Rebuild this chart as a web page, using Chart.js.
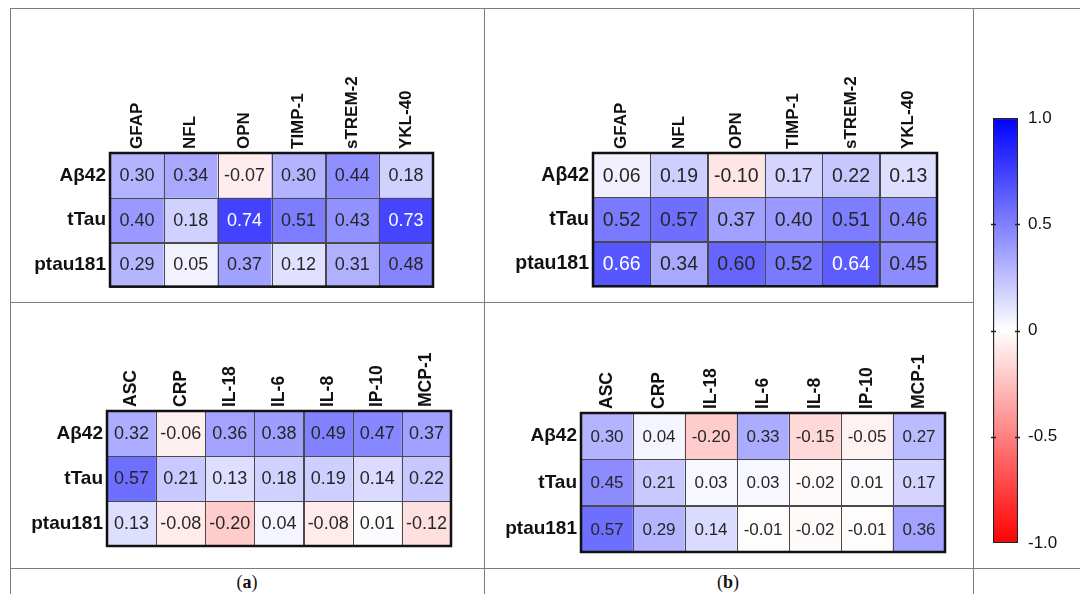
<!DOCTYPE html>
<html><head><meta charset="utf-8">
<script src="https://cdn.jsdelivr.net/npm/chart.js@4.4.1/dist/chart.umd.min.js"></script>
<style>
html,body{margin:0;padding:0;background:#fff;width:1080px;height:594px;overflow:hidden;}
body{position:relative;}
.ln{position:absolute;background:#7c7c7c;}
canvas{position:absolute;}
.cap{position:absolute;font-family:"Liberation Serif","Times New Roman",serif;font-size:18px;color:#111;transform:translate(-50%,-50%);white-space:nowrap;}
</style></head><body>
<div class="ln" style="left:10px;top:8px;width:1070px;height:1px"></div>
<div class="ln" style="left:10px;top:8px;width:1px;height:586px"></div>
<div class="ln" style="left:484px;top:8px;width:1px;height:586px"></div>
<div class="ln" style="left:973px;top:8px;width:1px;height:586px"></div>
<div class="ln" style="left:10px;top:302px;width:963px;height:1px"></div>
<div class="ln" style="left:10px;top:568px;width:1070px;height:1px"></div>
<canvas id="aTop" width="474" height="293" style="left:10px;top:9px"></canvas>
<canvas id="bTop" width="489" height="293" style="left:484px;top:9px"></canvas>
<canvas id="aBot" width="474" height="266" style="left:10px;top:302px"></canvas>
<canvas id="bBot" width="489" height="266" style="left:484px;top:302px"></canvas>
<canvas id="cbar" width="107" height="559" style="left:973px;top:9px"></canvas>
<div class="cap" id="capA" style="left:247px;top:582px"></div>
<div class="cap" id="capB" style="left:728px;top:582px"></div>
<script>
const rowLabels = ["Aβ42", "tTau", "ptau181"];
const colsTop = ["GFAP", "NFL", "OPN", "TIMP-1", "sTREM-2", "YKL-40"];
const colsBottom = ["ASC", "CRP", "IL-18", "IL-6", "IL-8", "IP-10", "MCP-1"];

const aTopAb42 = [0.30, 0.34, -0.07, 0.30, 0.44, 0.18];
const aTopTTau = [0.40, 0.18, 0.74, 0.51, 0.43, 0.73];
const aTopPtau = [0.29, 0.05, 0.37, 0.12, 0.31, 0.48];

const bTopAb42 = [0.06, 0.19, -0.10, 0.17, 0.22, 0.13];
const bTopTTau = [0.52, 0.57, 0.37, 0.40, 0.51, 0.46];
const bTopPtau = [0.66, 0.34, 0.60, 0.52, 0.64, 0.45];

const aBotAb42 = [0.32, -0.06, 0.36, 0.38, 0.49, 0.47, 0.37];
const aBotTTau = [0.57, 0.21, 0.13, 0.18, 0.19, 0.14, 0.22];
const aBotPtau = [0.13, -0.08, -0.20, 0.04, -0.08, 0.01, -0.12];

const bBotAb42 = [0.30, 0.04, -0.20, 0.33, -0.15, -0.05, 0.27];
const bBotTTau = [0.45, 0.21, 0.03, 0.03, -0.02, 0.01, 0.17];
const bBotPtau = [0.57, 0.29, 0.14, -0.01, -0.02, -0.01, 0.36];

const colorbarTicks = [1, 0.5, 0, -0.5, -1];
const colorbarTickLabels = ["1.0", "0.5", "0", "-0.5", "-1.0"];
const captionLetters = ["a", "b"];

const FONT = '"Liberation Sans", Arial, sans-serif';

function cellColor(v) {
  const t = Math.min(1, Math.abs(v));
  const c = Math.round(255 * (1 - t));
  return v >= 0 ? `rgb(${c},${c},255)` : `rgb(255,${c},${c})`;
}

const cellPlugin = {
  id: 'cells',
  afterDatasetsDraw(chart, args, opts) {
    const ctx = chart.ctx;
    ctx.save();
    chart.data.datasets.forEach((ds, di) => {
      const meta = chart.getDatasetMeta(di);
      meta.data.forEach((bar, i) => {
        const p = bar.getProps(['x', 'y', 'base', 'width'], true);
        const l = p.x - p.width / 2, t = Math.min(p.y, p.base), h = Math.abs(p.base - p.y);
        ctx.strokeStyle = '#4a4a4a';
        ctx.lineWidth = 1;
        ctx.strokeRect(Math.round(l) + 0.5, Math.round(t) + 0.5, Math.round(p.width), Math.round(h));
        const v = ds.values[i];
        ctx.fillStyle = v > 0.62 ? '#ffffff' : '#262626';
        ctx.font = `${opts.fontSize}px ${FONT}`;
        ctx.textAlign = 'center';
        ctx.textBaseline = 'middle';
        ctx.fillText(v.toFixed(2), p.x, (p.y + p.base) / 2 + 1);
      });
    });
    const a = chart.chartArea;
    ctx.strokeStyle = '#111';
    ctx.lineWidth = 2.5;
    ctx.strokeRect(a.left, a.top, a.right - a.left, a.bottom - a.top);
    ctx.restore();
  }
};

function heatmap(id, cols, rows, labelW, headH, padR, padB, valSize, rowSize, colSize) {
  const datasets = rows.map((vals, r) => ({
    data: vals.map(() => [r, r + 1]),
    values: vals,
    backgroundColor: vals.map(cellColor),
    borderWidth: 0,
    barPercentage: 1,
    categoryPercentage: 1,
    grouped: false
  }));
  new Chart(document.getElementById(id), {
    type: 'bar',
    data: { labels: cols, datasets },
    options: {
      responsive: false, animation: false, devicePixelRatio: 1,
      layout: { padding: { left: 0, top: 0, right: padR, bottom: padB } },
      plugins: { legend: { display: false }, tooltip: { enabled: false }, cells: { fontSize: valSize } },
      scales: {
        x: {
          type: 'category', position: 'top', offset: true,
          grid: { display: false, drawTicks: false }, border: { display: false },
          ticks: { minRotation: 90, maxRotation: 90, autoSkip: false, padding: 4, color: '#111',
                   labelOffset: colSize * 1.2,
                   font: { family: FONT, size: colSize, weight: 'bold' } },
          afterFit(s) { s.height = headH; }
        },
        y: {
          type: 'linear', reverse: true, min: 0, max: 3,
          grid: { display: false, drawTicks: false }, border: { display: false },
          afterBuildTicks(s) { s.ticks = [0.5, 1.5, 2.5].map(v => ({ value: v })); },
          ticks: { padding: 4, color: '#111', font: { family: FONT, size: rowSize, weight: 'bold' },
                   callback: (v) => rowLabels[Math.floor(v)] },
          afterFit(s) { s.width = labelW; }
        }
      }
    },
    plugins: [cellPlugin]
  });
}

heatmap('aTop', colsTop, [aTopAb42, aTopTTau, aTopPtau], 100, 144, 51, 2, 18, 19, 17);
heatmap('bTop', colsTop, [bTopAb42, bTopTTau, bTopPtau], 109, 144, 36, 4, 19.5, 19.5, 17);
heatmap('aBot', colsBottom, [aBotAb42, aBotTTau, aBotPtau], 97, 109, 33, 22, 18, 19, 17.5);
heatmap('bBot', colsBottom, [bBotAb42, bBotTTau, bBotPtau], 97, 111, 28, 16, 17, 19, 17.5);

const cbTicksPlugin = {
  id: 'cbticks',
  afterDatasetsDraw(chart) {
    const ctx = chart.ctx, ys = chart.scales.y, a = chart.chartArea;
    ctx.save();
    ctx.strokeStyle = '#222';
    ctx.lineWidth = 1.5;
    colorbarTicks.forEach(v => {
      if (Math.abs(v) === 1) return;
      const y = Math.round(ys.getPixelForValue(v)) + 0.5;
      ctx.beginPath();
      ctx.moveTo(a.left - 2, y); ctx.lineTo(a.left + 3, y);
      ctx.moveTo(a.right - 3, y); ctx.lineTo(a.right + 2, y);
      ctx.stroke();
    });
    ctx.restore();
  }
};

new Chart(document.getElementById('cbar'), {
  type: 'bar',
  data: {
    labels: [''],
    datasets: [{
      data: [[-1, 1]],
      backgroundColor(c) {
        const ch = c.chart;
        if (!ch.chartArea) return '#fff';
        const ys = ch.scales.y;
        const g = ch.ctx.createLinearGradient(0, ys.getPixelForValue(1), 0, ys.getPixelForValue(-1));
        for (let i = 0; i <= 20; i++) {
          const v = 1 - i / 10;
          g.addColorStop(i / 20, cellColor(v));
        }
        return g;
      },
      borderColor: '#222', borderWidth: 1.5, borderSkipped: false,
      barPercentage: 1, categoryPercentage: 1
    }]
  },
  options: {
    responsive: false, animation: false, devicePixelRatio: 1,
    layout: { padding: { left: 20, top: 109, right: 0, bottom: 25 } },
    plugins: { legend: { display: false }, tooltip: { enabled: false } },
    scales: {
      x: { display: false, offset: true },
      y: {
        position: 'right', min: -1, max: 1,
        grid: { display: false, drawTicks: false }, border: { display: false },
        afterBuildTicks(s) { s.ticks = colorbarTicks.map(v => ({ value: v })); },
        ticks: { padding: 10, color: '#111', font: { family: FONT, size: 17 },
                 callback: (v) => colorbarTickLabels[colorbarTicks.indexOf(v)] },
        afterFit(s) { s.width = 62; }
      }
    }
  },
  plugins: [cbTicksPlugin]
});

document.getElementById('capA').innerHTML = '(<b>' + captionLetters[0] + '</b>)';
document.getElementById('capB').innerHTML = '(<b>' + captionLetters[1] + '</b>)';
</script>
</body></html>
